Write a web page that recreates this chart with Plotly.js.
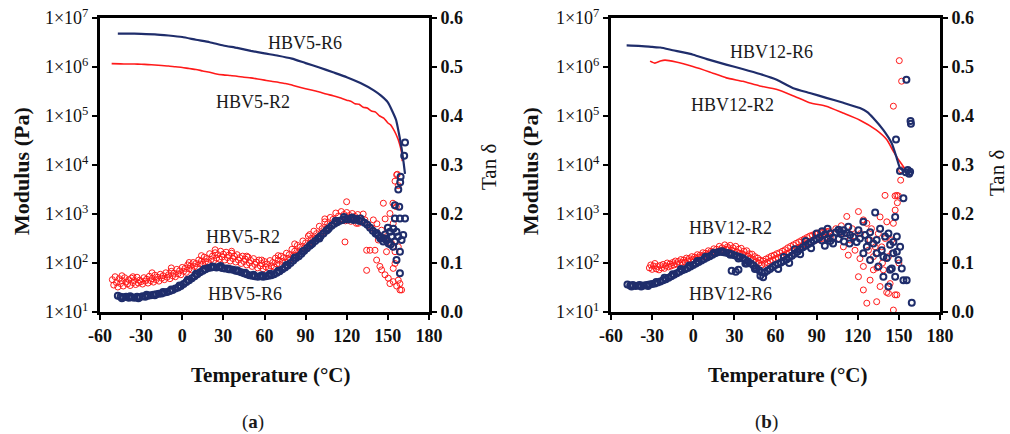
<!DOCTYPE html>
<html><head><meta charset="utf-8">
<script src="https://cdn.plot.ly/plotly-3.0.1.min.js"></script>
<style>html,body{margin:0;padding:0;background:#fff}#chart{width:1010px;height:434px}</style>
</head><body><div id="chart"></div>
<script>
// ---------- Panel (a) : HBV5 ----------
const modR6a_T = [-47,-40,-30,-20,-10,0,10,20,30,40,50,60,70,80,90,100,110,120,130,140,145,150,153,156,158,160,161.5,162.5];
const modR6a_V = [4.8e6,4.8e6,4.75e6,4.65e6,4.4e6,4.1e6,3.6e6,3.2e6,2.75e6,2.45e6,2.14e6,1.9e6,1.7e6,1.48e6,1.2e6,9.8e5,7.8e5,6.2e5,4.7e5,3.3e5,2.6e5,1.9e5,1.3e5,8.3e4,4.5e4,2.2e4,1.1e4,6.6e3];
const modR2a_T = [-51.5,-45,-40,-35,-30,-25,-20,-15,-10,-5,0,5,10,15,20,25,30,35,40,45,50,55,60,65,70,75,80,85,90,95,100,105,110,115,120,123,126,129,132,135,138,141,144,147,150,152,154,156,157.5,159,160,160.5];
const modR2a_V = [1.17e6,1.16e6,1.15e6,1.15e6,1.14e6,1.12e6,1.10e6,1.07e6,1.05e6,1.01e6,9.8e5,9.3e5,8.9e5,8.3e5,7.8e5,7.2e5,6.9e5,6.7e5,6.5e5,6.2e5,6.0e5,5.7e5,5.4e5,5.1e5,4.9e5,4.6e5,4.3e5,3.9e5,3.6e5,3.35e5,3.1e5,2.8e5,2.6e5,2.35e5,2.1e5,2.0e5,1.78e5,1.74e5,1.51e5,1.45e5,1.26e5,1.2e5,1.0e5,9.1e4,7.2e4,6.6e4,5.4e4,4.2e4,3.3e4,2.4e4,1.8e4,1.2e4];

const tanR2a_T = [-51,-50,-49,-48,-47,-46,-45,-44,-43,-42,-41,-40,-39,-38,-37,-36,-35,-34,-33,-32,-31,-30,-29,-28,-27,-26,-25,-24,-23,-22,-21,-20,-19,-18,-17,-16,-15,-14,-13,-12,-11,-10,-9,-8,-7,-6,-5,-4,-3,-2,-1,0,1,2,3,4,5,6,7,8,9,10,11,12,13,14,15,16,17,18,19,20,21,22,23,24,25,26,27,28,29,30,31,32,33,34,35,36,37,38,39,40,41,42,43,44,45,46,47,48,49,50,51,52,53,54,55,56,57,58,59,60,61,62,63,64,65,66,67,68,69,70,71,72,73,74,75,76,77,78,79,80,81,82,83,84,85,86,87,88,89,90,91,92,93,94,95,96,97,98,99,100,101,102,103,104,105,106,107,108,109,110,111,112,113,114,115,116,117,118,119,120,121,122,123,124,125,126,127,128,129,130];
const tanR2a_V = [.066,.055,.072,.060,.051,.068,.058,.064,.053,.070,.061,.057,.066,.054,.069,.060,.064,.056,.071,.059,.065,.062,.057,.070,.063,.067,.059,.073,.064,.068,.061,.075,.066,.071,.063,.077,.069,.074,.066,.080,.071,.076,.068,.083,.074,.079,.072,.087,.078,.084,.076,.091,.083,.089,.081,.096,.088,.094,.086,.101,.093,.099,.091,.106,.098,.104,.097,.112,.103,.109,.101,.119,.107,.114,.105,.121,.110,.117,.108,.124,.112,.118,.106,.122,.111,.116,.104,.120,.109,.114,.102,.117,.106,.111,.099,.114,.103,.108,.096,.112,.100,.105,.093,.109,.097,.102,.090,.106,.094,.099,.088,.103,.092,.098,.089,.105,.094,.101,.092,.110,.098,.106,.097,.114,.103,.111,.102,.120,.109,.117,.108,.128,.115,.124,.116,.136,.123,.132,.124,.145,.131,.141,.133,.155,.140,.150,.143,.165,.150,.160,.153,.175,.160,.170,.163,.184,.169,.180,.172,.193,.178,.189,.180,.202,.186,.196,.187,.205,.190,.199,.186,.203,.192,.197,.185,.201,.190,.195,.181,.199,.186,.192];
const tanR2a_outT = [119.9,118.7,134.5,134.5,137,140.6,141.8,144.2,145.4,147.9,150.3,151.5,153.9,160,146.7,151.5,153.9,156.4,155.2,153.9,149,157.6,143,138.2,133.3,128.4,139.4,145.4,149,155.2,157.6,158.8,152.7,156.9,157.6,155.2,153.7,156.2,158.8,156.4,132,136,142,148,-44,-36,-22,-8,5,14,24,36,47,58,70,82,93,104];
const tanR2a_outV = [.225,.143,.085,.126,.126,.126,.106,.093,.086,.076,.069,.058,.062,.045,.222,.201,.181,.280,.123,.089,.154,.133,.147,.171,.188,.181,.188,.167,.123,.099,.065,.058,.140,.281,.258,.267,.222,.215,.045,.053,.200,.175,.180,.190,.074,.072,.080,.090,.101,.115,.127,.124,.114,.106,.115,.139,.158,.190];

const tanR6a_T = [-47,-45,-43,-41,-39,-37,-35,-33,-31,-29,-27,-25,-23,-21,-19,-17,-15,-13,-11,-9,-7,-5,-3,-1,1,3,5,7,9,11,13,15,17,19,21,23,25,27,29,31,33,35,37,39,41,43,45,47,49,51,53,55,57,59,61,63,65,67,69,71,73,75,77,79,81,83,85,87,89,91,93,95,97,99,101,103,105,107,109,111,113,115,117,119,121,123,125,127,129,131,133,135,137,139,141,143,145,147,149];
const tanR6a_V = [.033,.031,.030,.031,.029,.030,.029,.031,.030,.032,.031,.033,.034,.035,.036,.037,.038,.040,.041,.043,.045,.048,.050,.053,.057,.061,.065,.069,.073,.077,.081,.084,.087,.090,.091,.092,.091,.092,.090,.089,.089,.087,.086,.084,.083,.081,.079,.077,.075,.074,.073,.072,.073,.072,.073,.074,.075,.077,.080,.083,.087,.091,.095,.100,.105,.110,.114,.119,.125,.130,.135,.140,.145,.150,.155,.160,.166,.171,.176,.180,.183,.186,.188,.190,.189,.191,.188,.190,.186,.185,.182,.178,.172,.166,.160,.156,.152,.150,.146];
const tanR6a_outT = [141.8,144.5,146.6,148,149,150.5,151.5,152.7,153.9,155.1,156.3,157.6,158.8,160,161.2,162.5,158.8,155.1,155.1,156.3,158.8,157.6,158.3,159,159.3,161.9,162.5,154,152,150,-44,-38,-32,-26,-20,-14,-8,-2,4,10,16,22,28,34,40,46,52,58,64,70,76,82,88,94,100,106,112,118,124,130];
const tanR6a_outV = [.161,.150,.144,.158,.150,.140,.164,.154,.133,.144,.164,.154,.123,.147,.157,.191,.191,.191,.218,.106,.079,.250,.215,.265,.276,.319,.346,.170,.138,.172,.028,.032,.028,.035,.034,.041,.046,.054,.066,.078,.088,.093,.094,.087,.085,.080,.076,.075,.078,.084,.096,.111,.124,.138,.150,.168,.186,.194,.193,.191];

// ---------- Panel (b) : HBV12 ----------
const modR6b_T = [-48.6,-40,-30,-24,-15,0,10,24,36,48.7,60.9,73,85,97,109.5,121.6,127,131.3,138.6,144.7,148.4,150.8,155.7,159.3];
const modR6b_V = [2.75e6,2.7e6,2.57e6,2.5e6,2.2e6,1.78e6,1.45e6,1.12e6,9.1e5,7.2e5,5.5e5,3.7e5,2.95e5,2.35e5,1.86e5,1.45e5,1.2e5,9.1e4,5.2e4,2.8e4,1.4e4,8.7e3,6.9e3,5.9e3];
const modR2b_T = [-31.5,-28,-24,-20.6,-12.5,-0.3,11.9,24.1,36.2,48.4,60.5,72.7,84.9,97,109.2,121.3,133.4,141.1,146,149.6,153.3,155.7];
const modR2b_V = [1.32e6,1.2e6,1.32e6,1.38e6,1.26e6,1.02e6,7.9e5,6.0e5,5.1e5,4.1e5,3.5e5,2.6e5,1.86e5,1.58e5,1.15e5,8.3e4,5.2e4,3.3e4,1.9e4,1.3e4,9.3e3,6.9e3];

const tanR2b_T = [-32,-31,-30,-29,-28,-27,-26,-25,-24,-23,-22,-21,-20,-19,-18,-17,-16,-15,-14,-13,-12,-11,-10,-9,-8,-7,-6,-5,-4,-3,-2,-1,0,1,2,3,4,5,6,7,8,9,10,11,12,13,14,15,16,17,18,19,20,21,22,23,24,25,26,27,28,29,30,31,32,33,34,35,36,37,38,39,40,41,42,43,44,45,46,47,48,49,50,51,52,53,54,55,56,57,58,59,60,61,62,63,64,65,66,67,68,69,70,71,72,73,74,75,76,77,78,79,80,81,82,83,84,85,86,87,88,89,90,91,92,93,94,95,96,97,98,99,100];
const tanR2b_V = [.090,.096,.087,.094,.099,.088,.093,.086,.095,.090,.097,.089,.094,.100,.092,.098,.094,.101,.096,.104,.098,.103,.099,.107,.101,.106,.102,.110,.104,.109,.105,.113,.107,.112,.109,.117,.111,.116,.113,.121,.115,.120,.117,.125,.119,.124,.121,.129,.122,.128,.124,.134,.126,.131,.127,.137,.128,.133,.129,.136,.126,.131,.124,.134,.122,.128,.120,.130,.118,.124,.116,.125,.114,.119,.110,.118,.107,.113,.103,.110,.100,.106,.096,.104,.099,.108,.101,.111,.104,.114,.106,.116,.109,.119,.111,.121,.113,.124,.116,.127,.119,.131,.121,.134,.124,.137,.127,.140,.130,.143,.133,.146,.136,.149,.139,.152,.141,.155,.143,.157,.146,.159,.147,.161,.149,.162,.150,.163,.152,.164,.151,.165,.153];
const tanR2b_outT = [112,120.5,124.1,126.6,109.5,113.1,114.4,118,121.6,124.1,126.6,133.8,129,131.4,120.5,124.1,136.3,139.9,148.5,151.3,147.2,149.6,148.9,142.4,148.5,146,143.6,138.7,133.8,141.2,146,147.3,137.5,142.4,144.8,129,131.4,136.3,132.7,127.8,150.3,152,146,147.2,141.1,104,106,108,110,116,118,122,130,135,140,145,150,138,134,152];
const tanR2b_outV = [.195,.205,.188,.181,.133,.116,.147,.126,.109,.093,.018,.021,.065,.086,.072,.045,.194,.238,.238,.269,.237,.237,.223,.038,.035,.004,.058,.086,.120,.184,.181,.208,.133,.113,.147,.147,.113,.052,.133,.126,.513,.471,.420,.035,.040,.170,.150,.176,.160,.170,.155,.160,.170,.160,.150,.120,.100,.100,.090,.290];

const tanR6b_T = [-48,-46,-44,-42,-40,-38,-36,-34,-32,-30,-28,-26,-24,-22,-20,-18,-16,-14,-12,-10,-8,-6,-4,-2,0,2,4,6,8,10,12,14,16,18,20,22,24,26,28,30,32,34,36,38,40,42,44,46,48,50,52,54,56,58,60,62,64,66,68,70,72,74,76,78,80,82,84,86,88,90,92,94,96,98,100,102,104,106,108,110,112,114,28,31,33,51,49,38,62,66,70,74,78,82,86,90,94,98,102,106,96,100];
const tanR6b_V = [.056,.054,.055,.053,.054,.052,.054,.055,.056,.057,.058,.060,.062,.065,.067,.070,.073,.076,.079,.082,.085,.087,.090,.093,.096,.099,.102,.105,.108,.111,.114,.117,.120,.122,.123,.122,.121,.120,.118,.116,.114,.112,.110,.106,.103,.099,.095,.090,.085,.081,.080,.084,.088,.092,.096,.098,.101,.104,.107,.111,.115,.119,.123,.128,.132,.135,.139,.142,.146,.149,.152,.146,.158,.150,.160,.152,.162,.149,.159,.144,.161,.140,.084,.082,.086,.071,.074,.099,.088,.112,.100,.128,.118,.145,.130,.160,.165,.170,.140,.168,.135,.145];
const tanR6b_outT = [109.5,114.4,119.2,120.5,124.1,126.6,129,129,132.7,133.8,135.1,137.5,138.7,139.9,141.2,142.4,143.6,144.8,146,147.3,148.5,149.7,150.9,152.1,153.3,155.7,153.3,159.4,136.3,131.4,121.6,125.3,142.4,146,138.7,143.6,147.3,148.5,133.8,127.8,116.8,113.1,107.1,124.1,155.5,158.8,158.5,147.9,150.8,155,156.5,157.5,158.2,-45,-39,-33,-27,-21,-15,-9,-3,3,9,15,21,27,33,39,45];
const tanR6b_outV = [.167,.157,.143,.167,.120,.133,.163,.106,.203,.147,.093,.126,.072,.154,.110,.052,.137,.089,.120,.194,.154,.106,.133,.089,.065,.065,.232,.019,.170,.140,.150,.157,.160,.143,.113,.086,.072,.123,.120,.147,.153,.174,.164,.184,.474,.384,.390,.352,.288,.285,.290,.282,.286,.052,.055,.053,.061,.070,.077,.088,.095,.104,.113,.121,.124,.117,.109,.099,.088];

// ---------- Axis ticks & labels ----------
const xTicks = [-60,-30,0,30,60,90,120,150,180];
const modTicks = [1e1,1e2,1e3,1e4,1e5,1e6,1e7];
const modTickText = ['1×10<sup>1</sup>','1×10<sup>2</sup>','1×10<sup>3</sup>','1×10<sup>4</sup>','1×10<sup>5</sup>','1×10<sup>6</sup>','1×10<sup>7</sup>'];
const tanTicks = [0,0.1,0.2,0.3,0.4,0.5,0.6];
const tanTickText = ['0.0','0.1','0.2','0.3','0.4','0.5','0.6'];
const labelsA = ['HBV5-R6','HBV5-R2','HBV5-R2','HBV5-R6'];
const labelsB = ['HBV12-R6','HBV12-R2','HBV12-R2','HBV12-R6'];

// ---------- Build ----------
const W = 1010, H = 434;
const px = x => x / W, py = y => 1 - y / H;
const FONT = 'Liberation Serif, "DejaVu Serif", serif';
const BLUE = '#1f2d6b', RED = '#ff1a1a';

function lineTrace(x, y, color, width, xa, ya) {
  return {x, y, xaxis: xa, yaxis: ya, type: 'scatter', mode: 'lines', line: {color, width, shape: 'spline', smoothing: 0.5}, hoverinfo: 'skip', showlegend: false};
}
function ptsTrace(x, y, color, lw, size, xa, ya) {
  return {x, y, xaxis: xa, yaxis: ya, type: 'scatter', mode: 'markers',
    marker: {symbol: 'circle-open', size, color, line: {color, width: lw}}, hoverinfo: 'skip', showlegend: false};
}

const data = [
  lineTrace(modR2a_T, modR2a_V, RED, 1.6, 'x', 'y'),
  lineTrace(modR6a_T, modR6a_V, BLUE, 2.2, 'x', 'y'),
  ptsTrace(tanR2a_T.concat(tanR2a_outT), tanR2a_V.concat(tanR2a_outV), RED, 1, 6, 'x', 'y2'),
  ptsTrace(tanR6a_T.concat(tanR6a_outT), tanR6a_V.concat(tanR6a_outV), BLUE, 2, 6, 'x', 'y2'),
  lineTrace(modR2b_T, modR2b_V, RED, 1.6, 'x2', 'y3'),
  lineTrace(modR6b_T, modR6b_V, BLUE, 2.2, 'x2', 'y3'),
  ptsTrace(tanR2b_T.concat(tanR2b_outT), tanR2b_V.concat(tanR2b_outV), RED, 1, 6, 'x2', 'y4'),
  ptsTrace(tanR6b_T.concat(tanR6b_outT), tanR6b_V.concat(tanR6b_outV), BLUE, 2, 6, 'x2', 'y4')
];

const axBase = {showline: true, linecolor: '#000', linewidth: 3, ticks: 'outside', ticklen: 5, tickwidth: 2,
  tickcolor: '#000', showgrid: false, zeroline: false, automargin: false, fixedrange: true};
const yDom = [py(312), py(18)];
const boldTick = {family: FONT, size: 18, color: '#111', weight: 'bold'};
const regTick = {family: FONT, size: 18, color: '#111'};

function xAx(d, anchor) {
  return Object.assign({}, axBase, {domain: d, anchor, range: [-60, 180], tickvals: xTicks, ticktext: xTicks.map(String), tickfont: boldTick, mirror: true});
}
function modAx(anchor) {
  return Object.assign({}, axBase, {domain: yDom, anchor, type: 'log', range: [1, 7], tickvals: modTicks, ticktext: modTickText, tickfont: regTick});
}
function tanAx(anchor, over) {
  return Object.assign({}, axBase, {overlaying: over, side: 'right', anchor, range: [0, 0.6], tickvals: tanTicks, ticktext: tanTickText, tickfont: boldTick});
}

function ann(text, x, y, size, opts) {
  return Object.assign({text, x: px(x), y: py(y), xref: 'paper', yref: 'paper', showarrow: false,
    xanchor: 'center', yanchor: 'middle', font: {family: FONT, size, color: '#1a1a1a'}}, opts || {});
}

const annotations = [
  ann(labelsA[0], 305, 43, 18), ann(labelsA[1], 253, 102, 18), ann(labelsA[2], 243, 237, 18), ann(labelsA[3], 245, 294, 18),
  ann(labelsB[0], 771, 52, 18), ann(labelsB[1], 732, 105, 18), ann(labelsB[2], 730, 228, 18), ann(labelsB[3], 730, 294, 18),
  ann('Temperature (°C)', 270, 375, 21, {font: {family: FONT, size: 21, color: '#111', weight: 'bold'}}),
  ann('Temperature (°C)', 787, 375, 21, {font: {family: FONT, size: 21, color: '#111', weight: 'bold'}}),
  ann('Modulus (Pa)', 21, 171, 22, {textangle: -90, font: {family: FONT, size: 22, color: '#111', weight: 'bold'}}),
  ann('Modulus (Pa)', 530, 171, 22, {textangle: -90, font: {family: FONT, size: 22, color: '#111', weight: 'bold'}}),
  ann('Tan δ', 489, 167, 21, {textangle: -90, font: {family: FONT, size: 21, color: '#111'}}),
  ann('Tan δ', 997, 173, 21, {textangle: -90, font: {family: FONT, size: 21, color: '#111'}}),
  ann('(<b>a</b>)', 253, 422, 19),
  ann('(<b>b</b>)', 766, 422, 19)
];

const layout = {
  width: W, height: H, margin: {l: 0, r: 0, t: 0, b: 0, pad: 0},
  paper_bgcolor: '#fff', plot_bgcolor: 'rgba(0,0,0,0)', showlegend: false,
  font: {family: FONT, color: '#111'},
  xaxis: xAx([px(100), px(429)], 'y'),
  yaxis: modAx('x'),
  yaxis2: tanAx('x', 'y'),
  xaxis2: xAx([px(611), px(940)], 'y3'),
  yaxis3: modAx('x2'),
  yaxis4: tanAx('x2', 'y3'),
  annotations
};

Plotly.newPlot('chart', data, layout, {staticPlot: true, displayModeBar: false});
</script>
</body></html>
